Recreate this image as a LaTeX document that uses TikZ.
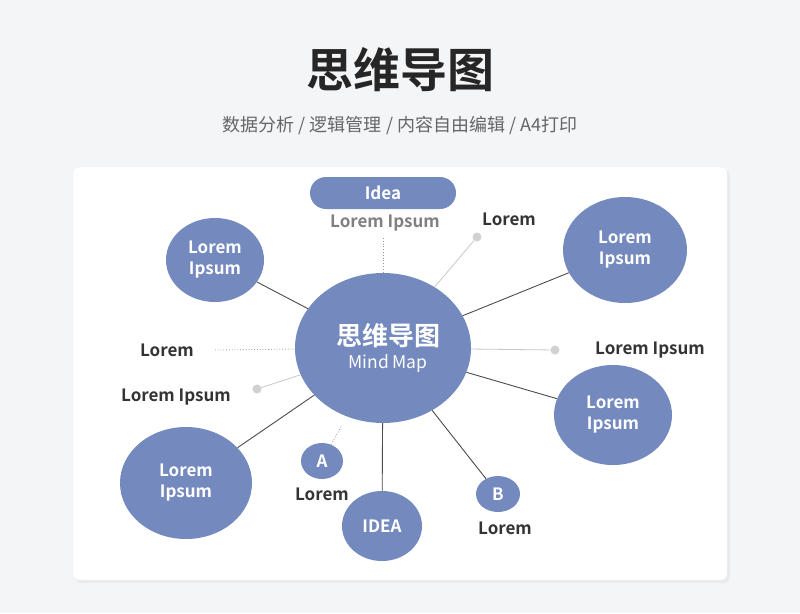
\documentclass[tikz,border=0pt]{standalone}
\usepackage{fontspec}
\setmainfont{Noto Sans CJK SC}
\newfontfamily\cjkb{Noto Sans CJK SC Bold}
\usetikzlibrary{shapes.geometric}
\definecolor{bub}{HTML}{7489BE}
\definecolor{bgc}{HTML}{F4F5F7}
\definecolor{txt}{HTML}{333333}
\tikzset{x=1pt,y=-1pt,
 bub/.style={ellipse,fill=bub,inner sep=0,align=center,text=white,font=\cjkb\fontsize{17}{21}\selectfont},
 lab/.style={text=txt,font=\cjkb\fontsize{17}{20}\selectfont},
 conn/.style={draw=black!70,line width=0.9pt},
 faint/.style={draw=black!22,line width=0.8pt},
 dotl/.style={draw=black!40,dotted,line width=0.8pt},
 gdot/.style={circle,fill=black!18,minimum size=9pt,inner sep=0}}
\begin{document}
\begin{tikzpicture}
\fill[bgc] (0,0) rectangle (800,613);
\useasboundingbox (0,0) rectangle (800,613);
\node[text=black!85,font=\cjkb\fontsize{47}{50}\selectfont] (title) at (400,70) {思维导图};
\node[text=black!60,font=\fontsize{18}{20}\selectfont] (sub) at (400,125) {数据分析 / 逻辑管理 / 内容自由编辑 / A4打印};
\fill[black!8,rounded corners=6pt] (75,170) rectangle (730,583);
\draw[rounded corners=6pt,fill=white,draw=black!5] (73,167) rectangle (727,580);
% nodes
\node[bub,minimum width=176pt,minimum height=150pt] (c) at (383,348) {};
\node[text=white,font=\cjkb\fontsize{26}{28}\selectfont] (ct) at (388,336) {思维导图};
\node[text=white,font=\fontsize{17.5}{20}\selectfont] (cm) at (388,364) {Mind Map};
\node[rounded corners=16pt,fill=bub,minimum width=146pt,minimum height=32pt,text=white,font=\cjkb\fontsize{17}{20}\selectfont] (idea) at (383,193) {Idea};
\node[text=black!50,font=\cjkb\fontsize{17}{20}\selectfont] (li) at (385,223) {Lorem Ipsum};
\node[bub,minimum width=98pt,minimum height=84pt] (ul) at (215,260) {Lorem\\Ipsum};
\node[bub,minimum width=124pt,minimum height=106pt] (ur) at (625,250) {Lorem\\Ipsum};
\node[bub,minimum width=118pt,minimum height=100pt] (r) at (613,415) {Lorem\\Ipsum};
\node[bub,minimum width=132pt,minimum height=112pt] (ll) at (186,483) {Lorem\\Ipsum};
\node[bub,minimum width=80pt,minimum height=70pt] (id2) at (382,526) {IDEA};
\node[bub,minimum width=42pt,minimum height=36pt] (a) at (322,461) {A};
\node[bub,minimum width=44pt,minimum height=36pt] (b) at (498,494) {B};
\node[lab] (la) at (322,494) {Lorem};
\node[lab] (lb) at (505,528) {Lorem};
\node[lab] (ltr) at (509,219) {Lorem};
\node[lab] (lr) at (650,350) {Lorem Ipsum};
\node[lab] (ll1) at (167,350) {Lorem};
\node[lab] (ll2) at (176,397) {Lorem Ipsum};
\node[gdot] (d1) at (477,237) {};
\node[gdot] (d2) at (555,350) {};
\node[gdot] (d3) at (257,389) {};
\coordinate (e1) at (215,350);
\coordinate (e2) at (383,238);
\coordinate (e3) at (342,425);
% connectors
\draw[conn] (ul) -- (c);
\draw[conn] (ur) -- (c);
\draw[conn] (r) -- (c);
\draw[conn] (ll) -- (c);
\draw[conn] (id2) -- (c);
\draw[conn] (b) -- (c);
\draw[faint] (d1) -- (c);
\draw[faint] (d2) -- (c);
\draw[faint] (d3) -- (c);
\draw[dotl] (e1) -- (c);
\draw[dotl] (e2) -- (c);
\draw[dotl] (a) -- (e3);
\end{tikzpicture}
\end{document}
